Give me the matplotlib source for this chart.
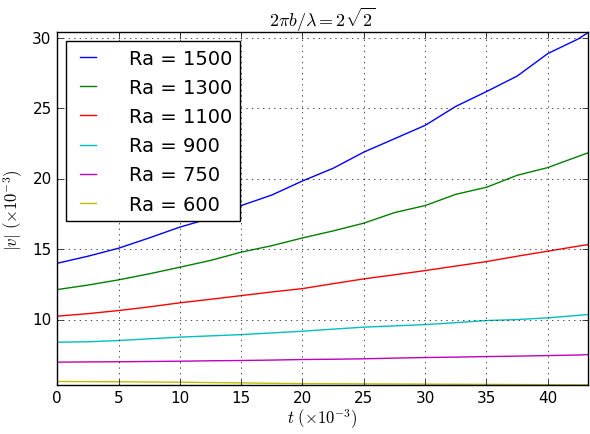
import matplotlib
matplotlib.use("Agg")
import matplotlib.pyplot as plt
import numpy as np

plt.style.use("classic")

# time samples (x 10^-3)
t = [0, 2.5, 5, 7.5, 10, 12.5, 15, 17.5, 20, 22.5, 25, 27.5, 30, 32.5, 35, 37.5, 40, 42.5, 43.3]

# |v| for each Rayleigh number (x 10^-3)
v_1500 = [14.0, 14.5, 15.07, 15.8, 16.57, 17.2, 18.1, 18.85, 19.85, 20.75, 21.9, 22.85, 23.8,
          25.15, 26.2, 27.3, 28.9, 29.95, 30.4]
v_1300 = [12.13, 12.45, 12.82, 13.25, 13.72, 14.2, 14.79, 15.25, 15.8, 16.3, 16.85, 17.6, 18.1,
          18.9, 19.4, 20.25, 20.8, 21.6, 21.85]
v_1100 = [10.24, 10.42, 10.64, 10.9, 11.19, 11.44, 11.7, 11.96, 12.2, 12.55, 12.89, 13.18, 13.48,
          13.8, 14.12, 14.5, 14.86, 15.22, 15.33]
v_900 = [8.39, 8.42, 8.51, 8.63, 8.75, 8.84, 8.93, 9.05, 9.17, 9.32, 9.46, 9.55, 9.64,
         9.78, 9.93, 10.0, 10.12, 10.3, 10.36]
v_750 = [6.97, 6.99, 7.0, 7.02, 7.04, 7.07, 7.09, 7.12, 7.16, 7.18, 7.21, 7.26, 7.3,
         7.33, 7.37, 7.4, 7.44, 7.48, 7.51]
v_600 = [5.6, 5.59, 5.58, 5.56, 5.55, 5.52, 5.5, 5.47, 5.45, 5.44, 5.43, 5.42, 5.41,
         5.4, 5.39, 5.38, 5.37, 5.36, 5.36]

series = [v_1500, v_1300, v_1100, v_900, v_750, v_600]
labels = ["Ra = 1500", "Ra = 1300", "Ra = 1100", "Ra = 900", "Ra = 750", "Ra = 600"]
colors = ["b", "g", "r", "c", "m", "y"]

fig = plt.figure(figsize=(5.9, 4.35), dpi=100)
fig.patch.set_facecolor("white")
ax = fig.add_axes([0.097, 0.113, 0.9, 0.81])

for vals, lab, col in zip(series, labels, colors):
    ax.plot(t, vals, color=col, label=lab, linewidth=1.0)

all_vals = np.concatenate([np.array(s) for s in series])
ax.set_xlim(0, t[-1])
ax.set_ylim(all_vals.min(), all_vals.max())
ax.set_xticks(np.arange(0, 45, 5))
ax.set_yticks([10, 15, 20, 25, 30])
ax.tick_params(labelsize=11)
ax.grid(True)

ax.set_title(r"$2\pi b/\lambda = 2\sqrt{2}$", fontsize=13)
ax.set_xlabel(r"$t\ (\times 10^{-3})$", fontsize=12, labelpad=1)
ax.set_ylabel(r"$|v|\ (\times 10^{-3})$", fontsize=12)

# legend sized to match the reference box
ax.legend(loc="upper left", fontsize=14, handlelength=1.45, handletextpad=1.4,
          labelspacing=0.52, borderpad=0.4, borderaxespad=0.45, frameon=True)

fig.savefig("out.png", dpi=100, facecolor="white")
